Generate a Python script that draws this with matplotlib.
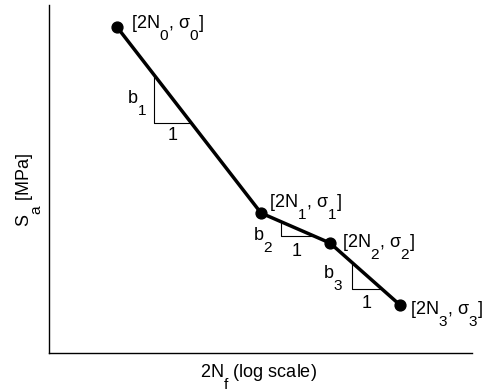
import numpy as np
import matplotlib
matplotlib.use("Agg")
import matplotlib.pyplot as plt
import matplotlib._mathtext as _mt

# reference subscripts are drawn large and dropped well below the baseline
_mt.SHRINK_FACTOR = 0.85
_mt.FontConstantsBase.sub1 = 1.25
_mt.FontConstantsBase.sub2 = 1.25

plt.rcParams['font.family'] = ['Liberation Sans', 'DejaVu Sans']
plt.rcParams['mathtext.fontset'] = 'custom'
plt.rcParams['mathtext.rm'] = 'Liberation Sans'
plt.rcParams['mathtext.it'] = 'Liberation Sans'
plt.rcParams['mathtext.sf'] = 'Liberation Sans'
plt.rcParams['mathtext.default'] = 'regular'

FS = 13

# Schematic S-N curve (arbitrary log-scale units)
log_2N = [68, 212, 281, 351]
stress = [326, 140, 110, 48]
point_labels = [r'[2N$_0$, $\sigma_0$]', r'[2N$_1$, $\sigma_1$]',
                r'[2N$_2$, $\sigma_2$]', r'[2N$_3$, $\sigma_3$]']
# slope triangles: (x start, x end) within each segment
tri_x = [(105, 142), (232, 264), (303, 333)]
slope_labels = [r'b$_1$', r'b$_2$', r'b$_3$']

# label placement (points)
pt_off = [(10, -1.4), (5.8, 3.6), (8.6, -3.6), (7.2, -6.5)]
b_off = [(-5.2, 13.7), (-5.6, -3.6), (-6.2, 7.9)]
one_off = [-3.3, -5.5, -4.0]

fig = plt.figure(figsize=(4.89, 3.9), dpi=100)
ax = fig.add_axes([49/489, 37/390, (472-49)/489, (385-37)/390])
ax.set_xlim(0, 423)
ax.set_ylim(0, 348)

ax.plot(log_2N, stress, color='black', lw=2.5, marker='o', ms=7.8,
        solid_capstyle='round', zorder=3)

for x, y, lab, off in zip(log_2N, stress, point_labels, pt_off):
    ax.annotate(lab, (x, y), xytext=off, textcoords='offset points',
                ha='left', va='baseline', fontsize=FS)

for (x0, x1), lab, bo, oo in zip(tri_x, slope_labels, b_off, one_off):
    y0 = np.interp(x0, log_2N, stress)
    y1 = np.interp(x1, log_2N, stress)
    ax.plot([x0, x0, x1], [y0, y1, y1], color='black', lw=0.8, zorder=2)
    ax.annotate(lab, (x0, y1), xytext=bo, textcoords='offset points',
                ha='right', va='baseline', fontsize=FS)
    ax.annotate('1', ((x0 + x1) / 2, y1), xytext=(0, oo), textcoords='offset points',
                ha='center', va='top', fontsize=FS)

ax.set_xticks([])
ax.set_yticks([])
for s in ['top', 'right']:
    ax.spines[s].set_visible(False)
for s in ['left', 'bottom']:
    ax.spines[s].set_linewidth(1.0)

ax.set_xlabel(r'2N$_f$ (log scale)', fontsize=FS)
ax.xaxis.set_label_coords(0.496, -0.026)
ax.set_ylabel(r'S$_a$ [MPa]', fontsize=FS)
ax.yaxis.set_label_coords(-0.013, 0.468)

fig.savefig('out.png', dpi=100)
